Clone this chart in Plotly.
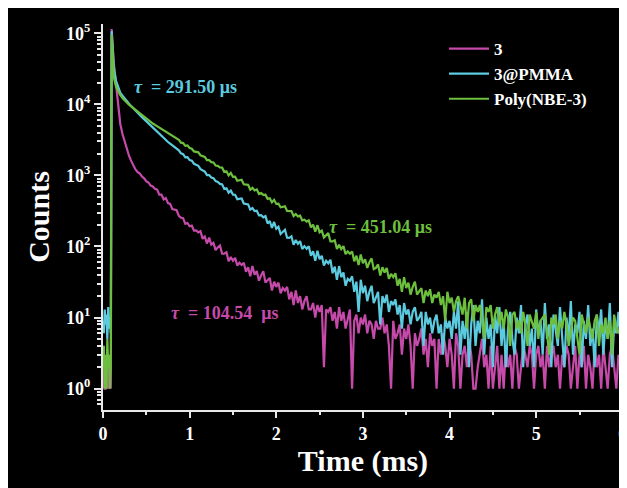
import plotly.graph_objects as go
import math

# ---------------- data ----------------
series_names = ["3", "3@PMMA", "Poly(NBE-3)"]
tau_labels = ["104.54", "291.50", "451.04"]

time_pre_ms = [0.00, 0.01, 0.02, 0.03, 0.04, 0.05, 0.06, 0.07, 0.08, 0.09]

time_decay_ms = [
    0.100, 0.125, 0.150, 0.175, 0.200, 0.225, 0.250, 0.275, 0.300, 0.325,
    0.350, 0.375, 0.400, 0.425, 0.450, 0.475, 0.500, 0.525, 0.550, 0.575,
    0.600, 0.625, 0.650, 0.675, 0.700, 0.725, 0.750, 0.775, 0.800, 0.825,
    0.850, 0.875, 0.900, 0.925, 0.950, 0.975, 1.000, 1.025, 1.050, 1.075,
    1.100, 1.125, 1.150, 1.175, 1.200, 1.225, 1.250, 1.275, 1.300, 1.325,
    1.350, 1.375, 1.400, 1.425, 1.450, 1.475, 1.500, 1.525, 1.550, 1.575,
    1.600, 1.625, 1.650, 1.675, 1.700, 1.725, 1.750, 1.775, 1.800, 1.825,
    1.850, 1.875, 1.900, 1.925, 1.950, 1.975, 2.000, 2.025, 2.050, 2.075,
    2.100, 2.125, 2.150, 2.175, 2.200, 2.225, 2.250, 2.275, 2.300, 2.325,
    2.350, 2.375, 2.400, 2.425, 2.450, 2.475, 2.500, 2.525, 2.550, 2.575,
    2.600, 2.625, 2.650, 2.675, 2.700, 2.725, 2.750, 2.775, 2.800, 2.825,
    2.850, 2.875, 2.900, 2.925, 2.950, 2.975, 3.000, 3.025, 3.050, 3.075,
    3.100, 3.125, 3.150, 3.175, 3.200, 3.225, 3.250, 3.275, 3.300, 3.325,
    3.350, 3.375, 3.400, 3.425, 3.450, 3.475, 3.500, 3.525, 3.550, 3.575,
    3.600, 3.625, 3.650, 3.675, 3.700, 3.725, 3.750, 3.775, 3.800, 3.825,
    3.850, 3.875, 3.900, 3.925, 3.950, 3.975, 4.000, 4.025, 4.050, 4.075,
    4.100, 4.125, 4.150, 4.175, 4.200, 4.225, 4.250, 4.275, 4.300, 4.325,
    4.350, 4.375, 4.400, 4.425, 4.450, 4.475, 4.500, 4.525, 4.550, 4.575,
    4.600, 4.625, 4.650, 4.675, 4.700, 4.725, 4.750, 4.775, 4.800, 4.825,
    4.850, 4.875, 4.900, 4.925, 4.950, 4.975, 5.000, 5.025, 5.050, 5.075,
    5.100, 5.125, 5.150, 5.175, 5.200, 5.225, 5.250, 5.275, 5.300, 5.325,
    5.350, 5.375, 5.400, 5.425, 5.450, 5.475, 5.500, 5.525, 5.550, 5.575,
    5.600, 5.625, 5.650, 5.675, 5.700, 5.725, 5.750, 5.775, 5.800, 5.825,
    5.850, 5.875, 5.900, 5.925, 5.950, 5.975, 6.000,
]

# compound 3 (magenta)
counts_3_pre = [1, 2, 1, 1, 2, 1, 3, 1, 2, 1]
counts_3 = [
    115000, 38000, 19100, 9300, 5250, 3820, 2930, 2360, 1890, 1600,
    1370, 1210, 1110, 1060, 965, 910, 825, 795, 720, 700,
    646, 630, 537, 536, 458, 479, 407, 397, 335, 330,
    323, 269, 254, 250, 208, 214, 192, 196, 167, 168,
    158, 164, 128, 138, 110, 133, 106, 112, 89, 97,
    103, 79, 79, 83, 62, 71, 63, 69, 54, 59,
    55, 59, 44, 51, 38, 53, 40, 45, 33, 39,
    45, 31, 33, 36, 24, 32, 27, 31, 22, 26,
    24, 27, 18, 23, 15, 24, 16, 20, 13, 17,
    20, 13, 13, 16, 10, 15, 12, 15, 2, 13,
    12, 14, 9, 12, 7, 14, 9, 12, 7, 10,
    13, 1, 9, 11, 6, 10, 8, 11, 6, 9,
    8, 5, 9, 7, 7, 10, 6, 8, 4, 1,
    9, 5, 6, 8, 3, 7, 5, 8, 4, 1,
    6, 4, 5, 7, 3, 5, 2, 6, 4, 5,
    1, 5, 3, 6, 4, 2, 5, 3, 1, 6,
    4, 1, 3, 4, 2, 5, 3, 1, 1, 2,
    3, 5, 2, 3, 1, 4, 1, 2, 4, 1,
    3, 1, 4, 2, 3, 1, 4, 3, 1, 2,
    4, 3, 2, 4, 3, 1, 3, 4, 2, 3,
    1, 4, 2, 3, 4, 2, 3, 1, 3, 2,
    4, 3, 1, 2, 4, 1, 3, 2, 4, 1,
    3, 2, 1, 4, 2, 3, 1, 4, 2, 1,
    3, 4, 2, 1, 3, 2, 4,
]

# 3@PMMA (cyan)
counts_pmma_pre = [9, 6, 13, 8, 11, 5, 14, 7, 10, 6]
counts_pmma = [
    107000, 33100, 21400, 17000, 14450, 13200, 12000, 11100, 10230, 9440,
    8710, 8130, 7590, 7080, 6610, 6170, 5820, 5430, 5070, 4790,
    4470, 4170, 3890, 3630, 3390, 3160, 2950, 2790, 2630, 2480,
    2340, 2259, 2044, 1990, 1800, 1813, 1640, 1609, 1458, 1417,
    1366, 1223, 1169, 1132, 1010, 1012, 936, 916, 830, 810,
    759, 748, 646, 659, 570, 610, 536, 535, 463, 473,
    473, 402, 394, 391, 330, 347, 315, 319, 274, 276,
    257, 267, 211, 228, 182, 221, 177, 189, 150, 161,
    172, 133, 132, 139, 106, 123, 109, 119, 92, 101,
    93, 101, 74, 86, 63, 87, 66, 74, 54, 63,
    58, 65, 42, 52, 34, 53, 37, 43, 28, 35,
    33, 38, 23, 32, 12, 34, 22, 28, 17, 23,
    28, 16, 19, 23, 8, 20, 16, 21, 12, 17,
    15, 18, 11, 15, 7, 16, 11, 13, 8, 12,
    14, 9, 10, 12, 4, 12, 8, 10, 6, 9,
    11, 6, 8, 3, 10, 7, 9, 5, 12, 7,
    17, 3, 9, 5, 12, 2, 8, 15, 4, 9,
    6, 18, 3, 10, 5, 8, 2, 11, 6, 14,
    4, 9, 2, 7, 12, 5, 3, 10, 6, 15,
    2, 8, 11, 4, 7, 2, 13, 6, 9, 3,
    16, 5, 8, 2, 11, 7, 4, 14, 6, 2,
    10, 5, 17, 3, 8, 6, 12, 2, 9, 5,
    15, 4, 7, 2, 11, 6, 13, 3, 9, 5,
    16, 2, 8, 6, 12, 4, 10,
]

# Poly(NBE-3) (green)
counts_poly_pre = [2, 4, 1, 3, 1, 5, 2, 3, 1, 2]
counts_poly = [
    95500, 24000, 17800, 15100, 13500, 12300, 11350, 10600, 9890, 9330,
    8810, 8320, 7850, 7410, 7000, 6610, 6240, 5960, 5620, 5370,
    5130, 4900, 4680, 4470, 4270, 4070, 3890, 3720, 3550, 3390,
    3240, 3158, 2885, 2848, 2604, 2647, 2426, 2375, 2177, 2151,
    2111, 1915, 1851, 1816, 1641, 1639, 1538, 1521, 1375, 1361,
    1290, 1285, 1122, 1142, 1000, 1081, 953, 961, 842, 860,
    870, 749, 734, 736, 629, 669, 615, 636, 546, 564,
    531, 536, 468, 477, 418, 453, 397, 401, 355, 363,
    367, 316, 313, 314, 268, 286, 265, 271, 233, 238,
    224, 233, 186, 203, 162, 199, 158, 167, 134, 145,
    154, 118, 118, 122, 92, 106, 92, 101, 78, 85,
    79, 85, 62, 74, 55, 77, 58, 66, 50, 60,
    68, 48, 50, 56, 39, 51, 43, 50, 35, 41,
    37, 42, 28, 35, 23, 37, 26, 31, 21, 27,
    32, 21, 23, 26, 16, 24, 20, 25, 16, 21,
    19, 23, 15, 20, 9, 23, 16, 19, 12, 17,
    20, 14, 11, 19, 7, 16, 18, 9, 15, 12,
    15, 9, 5, 14, 12, 15, 7, 11, 14, 8,
    12, 7, 13, 10, 4, 11, 12, 7, 9, 6,
    12, 8, 4, 11, 9, 7, 12, 5, 9, 10,
    11, 6, 3, 10, 8, 11, 5, 9, 7, 12,
    8, 4, 6, 10, 9, 5, 3, 11, 8, 6,
    10, 7, 5, 9, 11, 4, 8, 6, 10, 5,
    9, 3, 11, 7, 6, 8, 5,
]

y_major_vals = [1, 10, 100, 1000, 10000, 100000]
y_major_text = ["10<sup>0</sup>", "10<sup>1</sup>", "10<sup>2</sup>",
                "10<sup>3</sup>", "10<sup>4</sup>", "10<sup>5</sup>"]
x_major_vals = [0, 1, 2, 3, 4, 5, 6]
x_major_text = ["0", "1", "2", "3", "4", "5", "6"]

colors = ["#c64aa9", "#5ccadf", "#6dbf3e"]

# ---------------- figure ----------------
W, H = 627, 488
OFF = 8  # page body margin (screen px)
# plot area in screen pixels: x 103..623, y 24..410
SX0, SX1, SY0, SY1 = 103, 623, 24, 410
ML = SX0 - OFF
MR = W - (SX1 - OFF)
MT = SY0 - OFF
MB = H - (SY1 - OFF)
PW, PH = SX1 - SX0, SY1 - SY0


def px_x(px):
    return (px - SX0) / PW


def px_y(py):
    return (SY1 - py) / PH


FONT = "Liberation Serif"
AXC = "#e8e8e8"

fig = go.Figure()
all_series = [
    (counts_3_pre, counts_3),
    (counts_pmma_pre, counts_pmma),
    (counts_poly_pre, counts_poly),
]
times = time_pre_ms + time_decay_ms
for name, (pre, dec), col in zip(series_names, all_series, colors):
    assert len(dec) == len(time_decay_ms), (name, len(dec))
    fig.add_trace(go.Scatter(
        x=times, y=pre + dec, mode="lines", name=name,
        line=dict(color=col, width=2.2),
    ))

minor_y = []
for d in range(-1, 5):
    for m in range(2, 10):
        v = m * 10 ** d
        if 0.55 <= v < 1.3e5:
            minor_y.append(v)

axis_common = dict(
    showline=True, linecolor=AXC, linewidth=2,
    ticks="outside", tickcolor=AXC, tickwidth=1.5,
    showgrid=False, zeroline=False, automargin=False,
    ticklabeloverflow="allow",
    tickfont=dict(family=FONT, size=18, color="white", weight="bold"),
)

fig.update_layout(
    width=W, height=H,
    margin=dict(l=ML, r=MR, t=MT, b=MB),
    paper_bgcolor="black", plot_bgcolor="black",
    showlegend=True,
    legend=dict(
        x=px_x(444), y=px_y(31), xanchor="left", yanchor="top",
        bgcolor="rgba(0,0,0,0)", itemwidth=40,
        font=dict(family=FONT, size=17, color="white", weight="bold"),
        tracegroupgap=0,
    ),
    xaxis=dict(
        range=[0, 6.002], tickmode="array", tickvals=x_major_vals, ticktext=x_major_text,
        ticklen=6,
        minor=dict(dtick=0.5, ticklen=3, tickcolor=AXC, tickwidth=1.5, ticks="outside"),
        title=dict(text="Time (ms)", standoff=3,
                   font=dict(family=FONT, size=30, color="white", weight="bold")),
        **axis_common,
    ),
    yaxis=dict(
        type="log", range=[math.log10(0.5), math.log10(1.35e5)],
        tickmode="array", tickvals=y_major_vals, ticktext=y_major_text, ticklen=7,
        minor=dict(tickmode="array", tickvals=minor_y, ticklen=4,
                   tickcolor=AXC, tickwidth=1.5, ticks="outside"),
        title=dict(text="Counts", standoff=8,
                   font=dict(family=FONT, size=30, color="white", weight="bold")),
        **axis_common,
    ),
)

ann_font = dict(family=FONT, size=18, weight="bold")
ann_specs = [
    (tau_labels[1], colors[1], 132, 87, "\u00a0"),
    (tau_labels[2], colors[2], 327, 227, "\u00a0"),
    (tau_labels[0], colors[0], 169, 313, "\u00a0\u00a0"),
]
for lab, col, px, py, gap in ann_specs:
    fig.add_annotation(
        xref="paper", yref="paper", x=px_x(px), y=px_y(py),
        xanchor="left", yanchor="middle", showarrow=False,
        text="<i>\u03c4</i>\u00a0\u00a0= " + lab + gap + "\u03bcs",
        font=dict(color=col, **ann_font),
    )

fig.write_html("out.html")
